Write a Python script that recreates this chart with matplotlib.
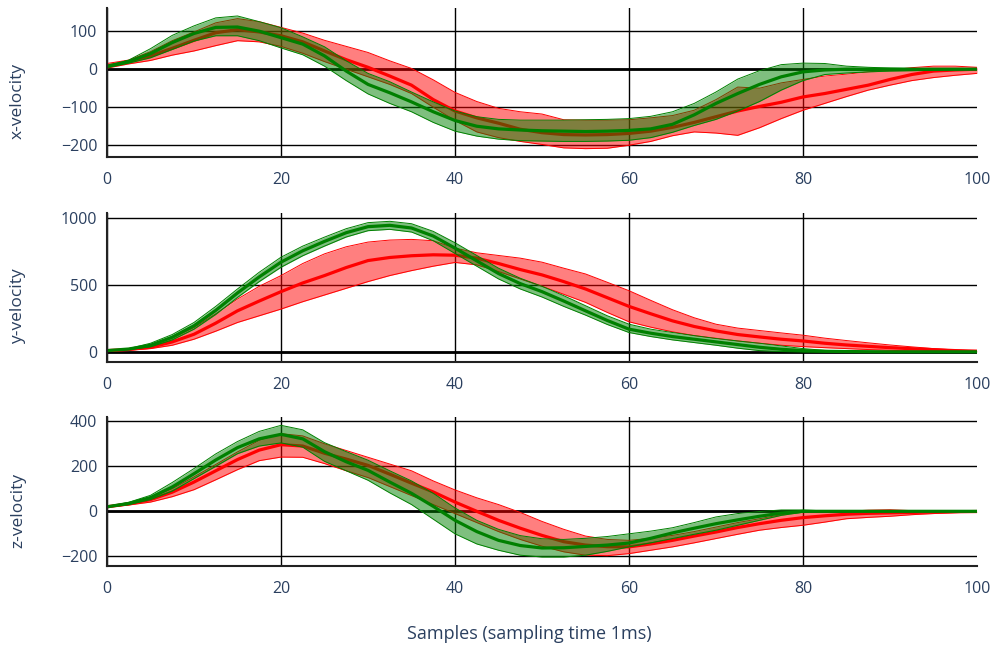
"""
Velocity profiles (x, y, z) with mean and spread bands, two conditions.
Output: out.png
"""
import matplotlib
matplotlib.use("Agg")
import matplotlib.pyplot as plt
import numpy as np

plt.rcParams["font.family"] = ["Open Sans", "DejaVu Sans"]

SAMPLES = np.arange(0, 100.1, 2.5)

# x-velocity
X_RED_MEAN = [8, 20, 35, 55, 76, 96, 104, 98, 88, 72, 48, 25, 5, -18, -42, -80, -110, -128, -142, -158, -167,
              -172, -173, -172, -169, -163, -153, -140, -125, -110, -98, -87, -73, -64, -53, -42, -27, -14, -5, -2, 0]
X_RED_UP = [15, 24, 46, 75, 98, 122, 133, 125, 110, 95, 76, 60, 44, 22, 2, -28, -61, -85, -103, -112, -118,
            -133, -134, -134, -133, -128, -122, -108, -80, -47, -50, -36, -27, -18, -13, -7, -2, 4, 8, 8, 5]
X_RED_LO = [3, 14, 23, 37, 48, 62, 75, 72, 60, 42, 20, 0, -20, -40, -64, -100, -135, -165, -180, -190, -198,
            -207, -209, -208, -200, -190, -175, -165, -168, -174, -154, -130, -108, -90, -72, -55, -42, -30, -22, -16, -11]
X_GRN_MEAN = [8, 20, 41, 70, 94, 110, 111, 100, 83, 66, 35, -5, -40, -62, -86, -112, -135, -150, -157, -160, -162,
              -163, -164, -163, -161, -157, -145, -120, -90, -64, -40, -20, -7, -2, 0, 0, 0, 0, 0, 0, 0]
X_GRN_UP = [8, 24, 54, 89, 114, 135, 140, 125, 109, 85, 59, 22, -11, -33, -60, -86, -110, -125, -132, -134, -134,
            -134, -133, -132, -130, -124, -112, -90, -60, -26, -4, 12, 16, 15, 8, 5, 3, 2, 1, 0, 0]
X_GRN_LO = [4, 16, 30, 52, 74, 88, 88, 75, 56, 38, 8, -30, -65, -90, -112, -140, -163, -176, -184, -188, -189,
            -190, -190, -189, -187, -180, -166, -148, -132, -110, -85, -55, -30, -14, -10, -7, -5, -4, -3, -2, -1]

# y-velocity
Y_RED_MEAN = [10, 18, 35, 75, 132, 215, 307, 380, 450, 515, 570, 630, 682, 705, 718, 725, 722, 700, 660, 615, 575,
              525, 470, 405, 340, 285, 232, 190, 157, 130, 112, 95, 82, 65, 52, 42, 32, 24, 17, 10, 6]
Y_RED_UP = [12, 25, 50, 105, 182, 285, 395, 490, 570, 660, 732, 785, 820, 835, 840, 830, 775, 740, 720, 700, 670,
            625, 582, 520, 457, 385, 315, 255, 207, 178, 160, 142, 125, 103, 85, 68, 52, 38, 25, 15, 8]
Y_RED_LO = [8, 14, 25, 50, 95, 155, 220, 270, 320, 375, 425, 475, 525, 570, 607, 640, 668, 650, 600, 545, 490,
            430, 370, 295, 225, 185, 150, 122, 102, 82, 65, 50, 40, 32, 25, 18, 12, 8, 5, 4, 3]
Y_GRN_MEAN = [10, 22, 50, 110, 195, 310, 440, 560, 670, 755, 825, 890, 935, 945, 925, 865, 775, 680, 585, 510, 450,
              380, 307, 235, 170, 140, 115, 95, 75, 55, 35, 20, 10, 5, 3, 2, 1, 1, 1, 1, 1]
Y_GRN_UP = [10, 25, 65, 130, 220, 340, 470, 595, 707, 790, 857, 920, 965, 975, 957, 900, 815, 720, 625, 550, 490,
            420, 345, 270, 207, 170, 145, 122, 100, 82, 65, 45, 25, 12, 5, 3, 3, 2, 2, 2, 2]
Y_GRN_LO = [8, 18, 38, 90, 170, 280, 407, 525, 632, 718, 790, 858, 905, 915, 895, 830, 735, 640, 545, 470, 410,
            340, 275, 205, 145, 115, 90, 70, 50, 28, 10, 3, 0, 0, 0, 0, 0, 0, 0, 0, 0]

# z-velocity
Z_RED_MEAN = [20, 33, 52, 85, 130, 180, 230, 272, 296, 290, 258, 232, 204, 165, 125, 86, 41, 0, -40, -75, -107,
              -135, -150, -157, -158, -145, -129, -110, -92, -72, -55, -40, -28, -20, -13, -9, -7, -5, -3, -2, -1]
Z_RED_UP = [22, 38, 61, 100, 153, 208, 264, 315, 345, 335, 300, 270, 240, 210, 180, 135, 95, 60, 30, -5, -45,
            -80, -110, -125, -129, -120, -107, -90, -70, -50, -33, -15, -3, 0, 0, 5, 7, 3, 1, 0, 0]
Z_RED_LO = [18, 28, 41, 65, 96, 140, 185, 225, 241, 240, 212, 180, 150, 110, 70, 30, -10, -50, -90, -125, -155,
            -180, -195, -197, -188, -173, -158, -140, -121, -102, -84, -72, -62, -48, -33, -27, -22, -15, -10, -6, -3]
Z_GRN_MEAN = [20, 35, 61, 108, 167, 228, 283, 322, 342, 322, 265, 220, 182, 130, 80, 22, -40, -90, -129, -152, -163,
              -162, -156, -150, -141, -120, -96, -75, -55, -38, -22, -8, 0, 0, 0, 0, 0, 0, 0, 0, 0]
Z_GRN_UP = [22, 40, 71, 128, 190, 255, 310, 355, 382, 362, 305, 265, 227, 180, 135, 80, 15, -40, -80, -108, -122,
            -125, -120, -112, -100, -88, -73, -50, -25, -10, -1, 6, 6, 2, 1, 0, 0, 0, 0, 0, 0]
Z_GRN_LO = [18, 30, 52, 90, 145, 200, 256, 290, 304, 285, 222, 180, 138, 82, 30, -35, -100, -145, -173, -195, -203,
            -203, -195, -178, -158, -140, -121, -102, -84, -62, -40, -18, -4, -1, 0, 0, 0, 0, 0, 0, 0]

PANELS = [
    ("x-velocity", (X_RED_MEAN, X_RED_UP, X_RED_LO), (X_GRN_MEAN, X_GRN_UP, X_GRN_LO),
     [-200, -100, 0, 100], (-231, 161)),
    ("y-velocity", (Y_RED_MEAN, Y_RED_UP, Y_RED_LO), (Y_GRN_MEAN, Y_GRN_UP, Y_GRN_LO),
     [0, 500, 1000], (-75, 1037)),
    ("z-velocity", (Z_RED_MEAN, Z_RED_UP, Z_RED_LO), (Z_GRN_MEAN, Z_GRN_UP, Z_GRN_LO),
     [-200, 0, 200, 400], (-243, 419)),
]

TEXT = "#2a3f5f"
RED = "#ff0000"
GREEN = "#008000"

W, H = 993, 645
fig = plt.figure(figsize=(W / 100, H / 100), dpi=100)

# panel extents in pixels (top, bottom)
ROWS = [(8, 157), (213, 362), (417, 566)]
LEFT, RIGHT = 107, 977


def band(ax, mean, up, lo, color):
    ax.fill_between(SAMPLES, lo, up, color=color, alpha=0.5, linewidth=0, zorder=2)
    ax.plot(SAMPLES, up, color=color, linewidth=0.7, zorder=2)
    ax.plot(SAMPLES, lo, color=color, linewidth=0.7, zorder=2)
    ax.plot(SAMPLES, mean, color=color, linewidth=2.3, zorder=2)


for (top, bottom), (label, red, green, yticks, ylim) in zip(ROWS, PANELS):
    ax = fig.add_axes([LEFT / W, 1 - bottom / H, (RIGHT - LEFT) / W, (bottom - top) / H])
    band(ax, *red, RED)
    band(ax, *green, GREEN)

    ax.set_xlim(0, 100)
    ax.set_ylim(*ylim)
    ax.set_xticks([0, 20, 40, 60, 80, 100])
    ax.set_yticks(yticks)
    ax.grid(True, color="black", linewidth=1.0, zorder=0)
    ax.set_axisbelow(True)
    ax.get_xgridlines()[-1].set_visible(False)
    ax.axhline(0, color="black", linewidth=2.0, zorder=1)

    ax.tick_params(length=0, labelsize=11.5, labelcolor=TEXT)
    ax.tick_params(axis="x", pad=11)
    ax.tick_params(axis="y", pad=7)
    ax.spines[["top", "right"]].set_visible(False)
    for side in ("left", "bottom"):
        ax.spines[side].set_color("#222222")
        ax.spines[side].set_linewidth(1.5)

    ax.set_ylabel(label, fontsize=12.5, color=TEXT)
    ax.yaxis.set_label_coords(-0.093, 0.375)

fig.text(529 / W, 1 - 634 / H, "Samples (sampling time 1ms)", ha="center", va="center",
         fontsize=13, color=TEXT)

fig.savefig("out.png", dpi=100)
